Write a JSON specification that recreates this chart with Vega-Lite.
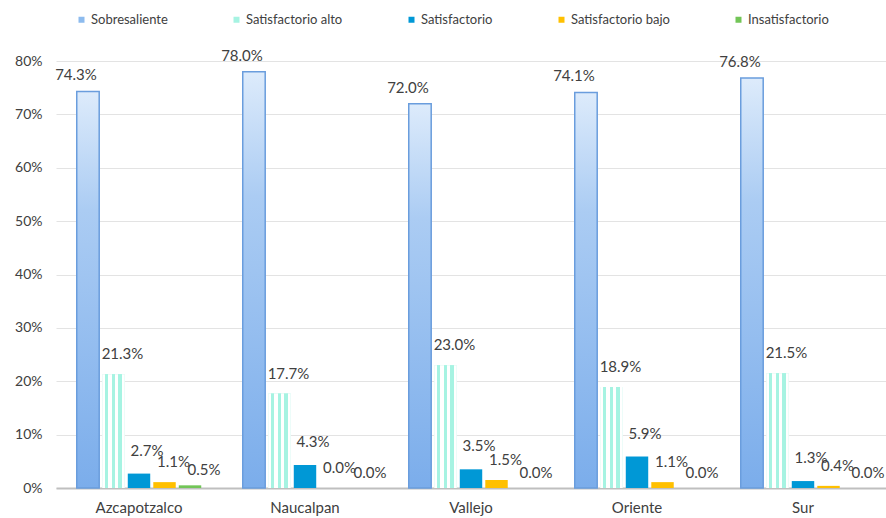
{
  "$schema": "https://vega.github.io/schema/vega-lite/v6.json",
  "width": 830,
  "height": 427,
  "autosize": "none",
  "padding": {"left": 56, "top": 61, "right": 0, "bottom": 30},
  "background": "white",
  "config": {"font": "Lato", "view": {"stroke": null}},
  "data": {
    "values": [
      {"plantel": "Azcapotzalco", "nivel": "Sobresaliente", "pct": 0.743},
      {"plantel": "Azcapotzalco", "nivel": "Satisfactorio alto", "pct": 0.213},
      {"plantel": "Azcapotzalco", "nivel": "Satisfactorio", "pct": 0.027},
      {"plantel": "Azcapotzalco", "nivel": "Satisfactorio bajo", "pct": 0.011},
      {"plantel": "Azcapotzalco", "nivel": "Insatisfactorio", "pct": 0.005},
      {"plantel": "Naucalpan", "nivel": "Sobresaliente", "pct": 0.78},
      {"plantel": "Naucalpan", "nivel": "Satisfactorio alto", "pct": 0.177},
      {"plantel": "Naucalpan", "nivel": "Satisfactorio", "pct": 0.043},
      {"plantel": "Naucalpan", "nivel": "Satisfactorio bajo", "pct": 0.0},
      {"plantel": "Naucalpan", "nivel": "Insatisfactorio", "pct": 0.0},
      {"plantel": "Vallejo", "nivel": "Sobresaliente", "pct": 0.72},
      {"plantel": "Vallejo", "nivel": "Satisfactorio alto", "pct": 0.23},
      {"plantel": "Vallejo", "nivel": "Satisfactorio", "pct": 0.035},
      {"plantel": "Vallejo", "nivel": "Satisfactorio bajo", "pct": 0.015},
      {"plantel": "Vallejo", "nivel": "Insatisfactorio", "pct": 0.0},
      {"plantel": "Oriente", "nivel": "Sobresaliente", "pct": 0.741},
      {"plantel": "Oriente", "nivel": "Satisfactorio alto", "pct": 0.189},
      {"plantel": "Oriente", "nivel": "Satisfactorio", "pct": 0.059},
      {"plantel": "Oriente", "nivel": "Satisfactorio bajo", "pct": 0.011},
      {"plantel": "Oriente", "nivel": "Insatisfactorio", "pct": 0.0},
      {"plantel": "Sur", "nivel": "Sobresaliente", "pct": 0.768},
      {"plantel": "Sur", "nivel": "Satisfactorio alto", "pct": 0.215},
      {"plantel": "Sur", "nivel": "Satisfactorio", "pct": 0.013},
      {"plantel": "Sur", "nivel": "Satisfactorio bajo", "pct": 0.004},
      {"plantel": "Sur", "nivel": "Insatisfactorio", "pct": 0.0}
    ]
  },
  "encoding": {
    "x": {
      "field": "plantel",
      "type": "nominal",
      "sort": ["Azcapotzalco", "Naucalpan", "Vallejo", "Oriente", "Sur"],
      "scale": {"paddingInner": 0.25, "paddingOuter": 0.125},
      "axis": {
        "title": null,
        "labelAngle": 0,
        "labelFontSize": 15,
        "labelColor": "#404040",
        "labelPadding": 12,
        "ticks": false,
        "domainColor": "#BFBFBF",
        "domainWidth": 2
      }
    },
    "xOffset": {
      "field": "nivel",
      "type": "nominal",
      "sort": ["Sobresaliente", "Satisfactorio alto", "Satisfactorio", "Satisfactorio bajo", "Insatisfactorio"],
      "scale": {"paddingInner": 0.12}
    },
    "y": {
      "field": "pct",
      "type": "quantitative",
      "scale": {"domain": [0, 0.8]},
      "axis": {
        "title": null,
        "format": ".0%",
        "values": [0, 0.1, 0.2, 0.3, 0.4, 0.5, 0.6, 0.7, 0.8],
        "labelFontSize": 14,
        "labelColor": "#404040",
        "labelPadding": 14,
        "ticks": false,
        "domain": false,
        "gridColor": "#E3E3E3"
      }
    }
  },
  "layer": [
    {
      "mark": {"type": "bar"},
      "encoding": {
        "color": {
          "field": "nivel",
          "type": "nominal",
          "sort": ["Sobresaliente", "Satisfactorio alto", "Satisfactorio", "Satisfactorio bajo", "Insatisfactorio"],
          "scale": {"range": ["#8DBBEE", "#A6F3E2", "#0098D6", "#FFC000", "#72C557"]},
          "legend": {
            "title": null,
            "orient": "none",
            "legendX": 19,
            "legendY": -48,
            "direction": "horizontal",
            "symbolType": "square",
            "symbolSize": 36,
            "symbolStrokeWidth": 0,
            "labelFontSize": 13,
            "labelColor": "#404040",
            "labelOffset": 3,
            "columnPadding": 62
          }
        }
      }
    },
    {
      "transform": [{"filter": "datum.nivel === 'Sobresaliente'"}],
      "mark": {
        "type": "bar",
        "stroke": "#6A9DDD",
        "strokeWidth": 1.5,
        "color": {
          "gradient": "linear",
          "x1": 0, "x2": 0, "y1": 0, "y2": 1,
          "stops": [
            {"offset": 0, "color": "#DDEBFB"},
            {"offset": 0.3, "color": "#ABCCF3"},
            {"offset": 1, "color": "#7BADEB"}
          ]
        }
      }
    },
    {
      "transform": [{"filter": "datum.nivel === 'Satisfactorio alto'"}],
      "mark": {
        "type": "bar",
        "color": {
          "gradient": "linear",
          "x1": 0, "x2": 1, "y1": 0, "y2": 0,
          "stops": [
            {"offset": 0, "color": "#FFFFFF"},
            {"offset": 0.12, "color": "#FFFFFF"},
            {"offset": 0.12, "color": "#A6F3E2"},
            {"offset": 0.27, "color": "#A6F3E2"},
            {"offset": 0.27, "color": "#FFFFFF"},
            {"offset": 0.42, "color": "#FFFFFF"},
            {"offset": 0.42, "color": "#A6F3E2"},
            {"offset": 0.57, "color": "#A6F3E2"},
            {"offset": 0.57, "color": "#FFFFFF"},
            {"offset": 0.72, "color": "#FFFFFF"},
            {"offset": 0.72, "color": "#A6F3E2"},
            {"offset": 0.87, "color": "#A6F3E2"},
            {"offset": 0.87, "color": "#FFFFFF"},
            {"offset": 1, "color": "#FFFFFF"}
          ]
        }
      }
    },
    {
      "transform": [{"filter": "datum.nivel === 'Sobresaliente'"}],
      "mark": {"type": "text", "baseline": "bottom", "dx": -12, "dy": -8, "fontSize": 15, "color": "#404040"},
      "encoding": {"text": {"field": "pct", "type": "quantitative", "format": ".1%"}}
    },
    {
      "transform": [{"filter": "datum.nivel === 'Satisfactorio alto'"}],
      "mark": {"type": "text", "baseline": "bottom", "dx": 9, "dy": -12, "fontSize": 15, "color": "#404040"},
      "encoding": {"text": {"field": "pct", "type": "quantitative", "format": ".1%"}}
    },
    {
      "transform": [{"filter": "datum.nivel === 'Satisfactorio'"}],
      "mark": {"type": "text", "baseline": "bottom", "dx": 8, "dy": -15, "fontSize": 15, "color": "#404040"},
      "encoding": {"text": {"field": "pct", "type": "quantitative", "format": ".1%"}}
    },
    {
      "transform": [{"filter": "datum.nivel === 'Satisfactorio bajo'"}],
      "mark": {"type": "text", "baseline": "bottom", "dx": 9, "dy": -12, "fontSize": 15, "color": "#404040"},
      "encoding": {"text": {"field": "pct", "type": "quantitative", "format": ".1%"}}
    },
    {
      "transform": [{"filter": "datum.nivel === 'Insatisfactorio'"}],
      "mark": {"type": "text", "baseline": "bottom", "dx": 14, "dy": -7, "fontSize": 15, "color": "#404040"},
      "encoding": {"text": {"field": "pct", "type": "quantitative", "format": ".1%"}}
    }
  ]
}
